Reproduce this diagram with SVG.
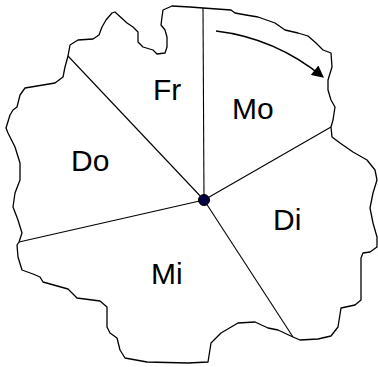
<svg xmlns="http://www.w3.org/2000/svg" width="378" height="367" viewBox="0 0 378 367">
<style>
.outline{fill:none;stroke:#000;stroke-width:1.3;stroke-linejoin:round;stroke-linecap:round}
.div{stroke:#000;stroke-width:1.1;fill:none}
.lbl{font-family:"Liberation Sans",Arial,sans-serif;font-size:30px;fill:#000}
</style>
<defs>
<marker id="ah" viewBox="0 0 10 10" refX="9" refY="5" markerWidth="8" markerHeight="7.5" orient="auto" markerUnits="strokeWidth">
<path d="M0,0 L10,5 L0,10 Z" fill="#000"/>
</marker>
</defs>
<rect width="378" height="367" fill="#fff"/>
<g id="outline">
<polyline class="outline" points="172,6 190,7 203,8 231,10 235,13 246,15 258,17 275,23 285,30 298,33 308,36 316,43 323,50 331,53 332,67 328,80 328,90 331,100 335,107 333,120 331,127 332,137 340,143 353,152 367,160 375,170 377,180 373,193 370,208 373,223 377,237 377,247 370,252 363,253 361,258 361,300 355,305 341,308 338,327 331,336 318,339 300,340 293,337 278,330 268,328 255,322 238,323 221,333 211,343 208,362 188,363 147,362 125,358 120,350 117,338 110,333 107,327 107,307 100,301 77,298 68,289 43,282 40,277 33,274 22,270 18,257 17,245 19,242 22,233 18,220 13,207 15,193 20,180 20,163 15,147 8,133 6,128 10,115 13,110 17,107 20,95 25,88 55,83 63,77 65,67 68,56 70,45 78,40 93,39 99,35 102,27 106,20 112,13 115,12 127,23 133,27 138,32 138,42 143,47 153,50 157,54 165,53 167,47 167,37 165,30 161,25 162,17 163,10 172,6"/>
</g>
<g id="connectors">
<line class="div" x1="204" y1="200" x2="203" y2="8"/>
<line class="div" x1="204" y1="200" x2="68" y2="56"/>
<line class="div" x1="204" y1="200" x2="19" y2="242"/>
<line class="div" x1="204" y1="200" x2="293" y2="337"/>
<line class="div" x1="204" y1="200" x2="331" y2="127"/>
<path d="M216,31 Q275,38 323,77" fill="none" stroke="#000" stroke-width="1.6" marker-end="url(#ah)"/>
</g>
<g id="center"><circle cx="204" cy="200" r="5.5" fill="#000040" stroke="#000" stroke-width="1"/></g>
<g id="fr"><text class="lbl" x="153" y="100">Fr</text></g>
<g id="mo"><text class="lbl" x="232" y="119">Mo</text></g>
<g id="do"><text class="lbl" x="71" y="171">Do</text></g>
<g id="mi"><text class="lbl" x="151" y="284">Mi</text></g>
<g id="di"><text class="lbl" x="273" y="230">Di</text></g>
</svg>
